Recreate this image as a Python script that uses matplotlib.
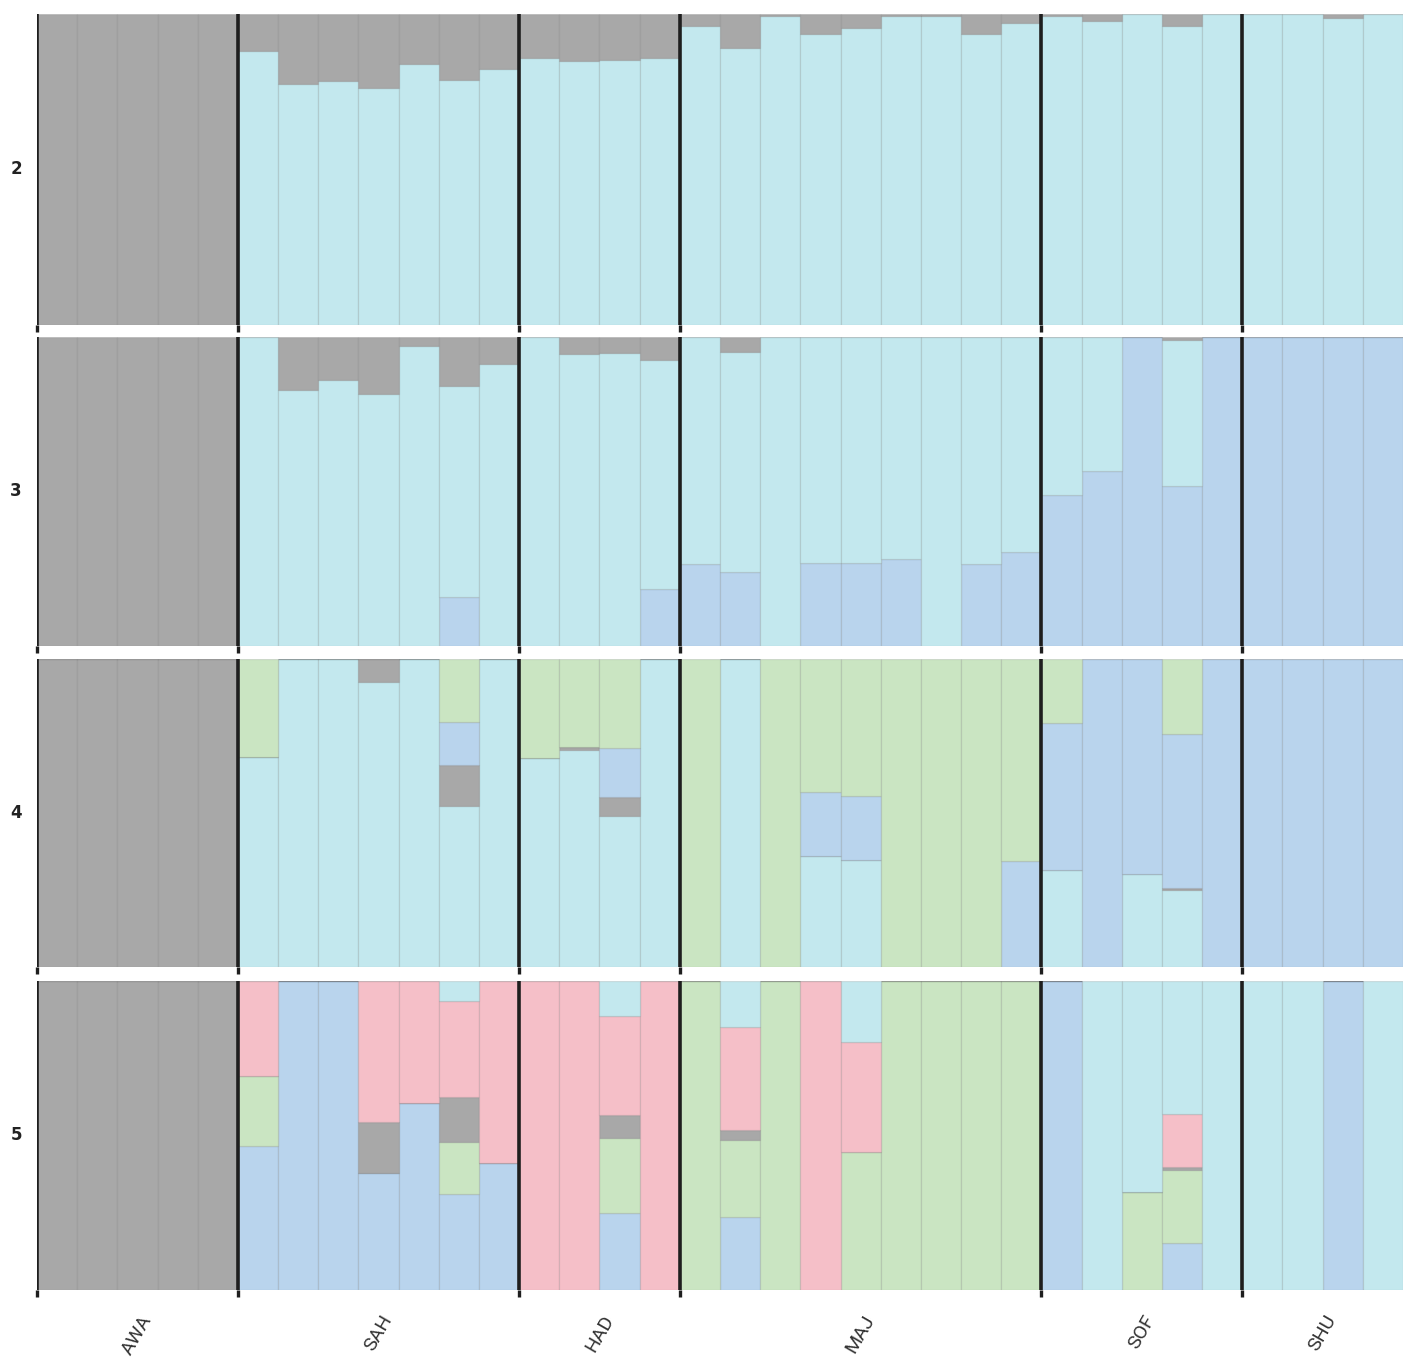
import numpy as np
import matplotlib
matplotlib.use('Agg')
import matplotlib.pyplot as plt
from matplotlib import transforms

# populations and sample sizes
pops = ['AWA', 'SAH', 'HAD', 'MAJ', 'SOF', 'SHU']
n_ind = [5, 7, 4, 9, 5, 4]

# cluster colours
c_gray = '#a8a8a8'
c_cyan = '#c3e8ee'
c_blue = '#b9d4ed'
c_green = '#cae5c2'
c_pink = '#f5bfc8'

# K = 2  (stack order bottom -> top: cyan, gray)
k2_cyan = [0, 0, 0, 0, 0,
           0.88, 0.775, 0.786, 0.762, 0.84, 0.788, 0.824,
           0.86, 0.848, 0.853, 0.857,
           0.962, 0.892, 0.995, 0.937, 0.956, 0.995, 0.995, 0.937, 0.971,
           0.994, 0.978, 1, 0.963, 1,
           1, 1, 0.987, 1]
k2_gray = [1, 1, 1, 1, 1,
           0.12, 0.225, 0.214, 0.238, 0.16, 0.212, 0.176,
           0.14, 0.152, 0.147, 0.143,
           0.038, 0.108, 0.005, 0.063, 0.044, 0.005, 0.005, 0.063, 0.029,
           0.006, 0.022, 0, 0.037, 0,
           0, 0, 0.013, 0]

# K = 3  (blue, cyan, gray)
k3_blue = [0, 0, 0, 0, 0,
           0, 0, 0, 0, 0, 0.157, 0,
           0, 0, 0, 0.184,
           0.265, 0.241, 0, 0.267, 0.267, 0.283, 0, 0.265, 0.305,
           0.488, 0.565, 1, 0.519, 1,
           1, 1, 1, 1]
k3_cyan = [0, 0, 0, 0, 0,
           1, 0.829, 0.861, 0.815, 0.97, 0.685, 0.912,
           1, 0.945, 0.948, 0.742,
           0.735, 0.711, 1, 0.733, 0.733, 0.717, 1, 0.735, 0.695,
           0.512, 0.435, 0, 0.471, 0,
           0, 0, 0, 0]
k3_gray = [1, 1, 1, 1, 1,
           0, 0.171, 0.139, 0.185, 0.03, 0.158, 0.088,
           0, 0.055, 0.052, 0.074,
           0, 0.048, 0, 0, 0, 0, 0, 0, 0,
           0, 0, 0, 0.01, 0,
           0, 0, 0, 0]

# K = 4  (cyan, gray, blue, green)
k4_cyan = [0, 0, 0, 0, 0,
           0.683, 1, 1, 0.925, 1, 0.524, 1,
           0.677, 0.703, 0.491, 1,
           0, 1, 0, 0.361, 0.347, 0, 0, 0, 0,
           0.314, 0, 0.303, 0.249, 0,
           0, 0, 0, 0]
k4_gray = [1, 1, 1, 1, 1,
           0, 0, 0, 0.075, 0, 0.131, 0,
           0, 0.011, 0.062, 0,
           0, 0, 0, 0, 0, 0, 0, 0, 0,
           0, 0, 0, 0.008, 0,
           0, 0, 0, 0]
k4_blue = [0, 0, 0, 0, 0,
           0, 0, 0, 0, 0, 0.141, 0,
           0, 0, 0.157, 0,
           0, 0, 0, 0.208, 0.209, 0, 0, 0, 0.345,
           0.477, 1, 0.697, 0.498, 1,
           1, 1, 1, 1]
k4_green = [0, 0, 0, 0, 0,
            0.317, 0, 0, 0, 0, 0.204, 0,
            0.323, 0.286, 0.29, 0,
            1, 0, 1, 0.431, 0.444, 1, 1, 1, 0.655,
            0.209, 0, 0, 0.245, 0,
            0, 0, 0, 0]

# K = 5  (blue, green, gray, pink, cyan)
k5_blue = [0, 0, 0, 0, 0,
           0.465, 1, 1, 0.38, 0.605, 0.31, 0.411,
           0, 0, 0.248, 0,
           0, 0.237, 0, 0, 0, 0, 0, 0, 0,
           1, 0, 0, 0.151, 0,
           0, 0, 1, 0]
k5_green = [0, 0, 0, 0, 0,
            0.229, 0, 0, 0, 0, 0.17, 0,
            0, 0, 0.243, 0,
            1, 0.247, 1, 0, 0.445, 1, 1, 1, 1,
            0, 0, 0.318, 0.238, 0,
            0, 0, 0, 0]
k5_gray = [1, 1, 1, 1, 1,
           0, 0, 0, 0.165, 0, 0.144, 0,
           0, 0, 0.075, 0,
           0, 0.034, 0, 0, 0, 0, 0, 0, 0,
           0, 0, 0, 0.008, 0,
           0, 0, 0, 0]
k5_pink = [0, 0, 0, 0, 0,
           0.306, 0, 0, 0.455, 0.395, 0.31, 0.589,
           1, 1, 0.322, 1,
           0, 0.333, 0, 1, 0.359, 0, 0, 0, 0,
           0, 0, 0, 0.173, 0,
           0, 0, 0, 0]
k5_cyan = [0, 0, 0, 0, 0,
           0, 0, 0, 0, 0, 0.066, 0,
           0, 0, 0.112, 0,
           0, 0.149, 0, 0, 0.196, 0, 0, 0, 0,
           0, 1, 0.682, 0.43, 1,
           1, 1, 0, 1]

panels = [
    ('2', [k2_cyan, k2_gray], [c_cyan, c_gray]),
    ('3', [k3_blue, k3_cyan, k3_gray], [c_blue, c_cyan, c_gray]),
    ('4', [k4_cyan, k4_gray, k4_blue, k4_green], [c_cyan, c_gray, c_blue, c_green]),
    ('5', [k5_blue, k5_green, k5_gray, k5_pink, k5_cyan],
     [c_blue, c_green, c_gray, c_pink, c_cyan]),
]

W, H = 1418, 1364
fig = plt.figure(figsize=(W / 100, H / 100), dpi=100)

# pixel rows of each panel (top, bottom)
rows = [(14, 325), (337, 646), (659, 967), (981, 1290)]
x_left, x_right = 37, 1403

n_total = sum(n_ind)
x = np.arange(n_total) + 0.5
bounds = np.concatenate([[0], np.cumsum(n_ind)[:-1]])
centers = np.cumsum(n_ind) - np.array(n_ind) / 2

for (klabel, series, colors), (top, bot) in zip(panels, rows):
    ax = fig.add_axes([x_left / W, 1 - bot / H, (x_right - x_left) / W, (bot - top) / H])
    bottom = np.zeros(n_total)
    for vals, col in zip(series, colors):
        vals = np.array(vals, dtype=float)
        ax.bar(x, vals, width=1.0, bottom=bottom, color=col,
               edgecolor=(0, 0, 0, 0.10), linewidth=0.9)
        bottom += vals
    for b in bounds:
        ax.axvline(b, color='#1e1e1e', lw=2.6, zorder=5)
    ax.set_xlim(0, n_total)
    ax.set_ylim(0, 1)
    for s in ax.spines.values():
        s.set_visible(False)
    ax.set_yticks([])
    ax.set_xticks(bounds)
    ax.tick_params(axis='x', which='major', direction='out', length=5, width=2.4,
                   color='#1e1e1e', labelbottom=False)
    # K label on the left
    tr = transforms.blended_transform_factory(fig.transFigure, ax.transAxes)
    fig.text(16 / W, 0.5, klabel, transform=tr, fontsize=12, fontweight='bold',
             ha='center', va='center', color='#222222')
    last_ax = ax

# population labels under the bottom panel
last_ax.set_xticks(centers, minor=True)
last_ax.set_xticklabels(pops, minor=True, rotation=60, ha='center')
for lab in last_ax.get_xticklabels(minor=True):
    lab.set_fontsize(14)
    lab.set_color('#333333')
    lab.set_family(['Roboto', 'DejaVu Sans'])
last_ax.tick_params(axis='x', which='minor', length=0, pad=16, labelcolor='#333333')

fig.savefig('out.png', dpi=100)
